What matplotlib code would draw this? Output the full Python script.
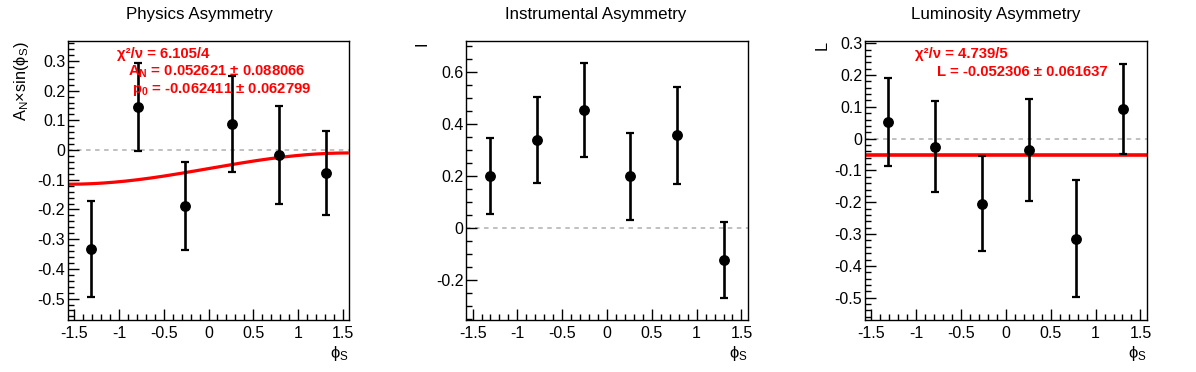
import numpy as np
import matplotlib
matplotlib.use("Agg")
import matplotlib.pyplot as plt
from matplotlib.ticker import MultipleLocator

plt.rcParams['font.family'] = ['Liberation Sans', 'DejaVu Sans']
plt.rcParams['mathtext.fontset'] = 'custom'
plt.rcParams['mathtext.rm'] = 'Liberation Sans'
plt.rcParams['mathtext.it'] = 'Liberation Sans:italic'
plt.rcParams['mathtext.bf'] = 'Liberation Sans:bold'

# ---- data ----
phi_s = [-1.309, -0.785, -0.262, 0.262, 0.785, 1.309]

phys_y = [-0.333, 0.145, -0.188, 0.087, -0.017, -0.078]
phys_err = [0.161, 0.148, 0.148, 0.162, 0.166, 0.141]
phys_AN = 0.052621
phys_p0 = -0.062411

inst_y = [0.201, 0.339, 0.455, 0.200, 0.358, -0.122]
inst_err = [0.147, 0.165, 0.181, 0.167, 0.187, 0.145]

lumi_y = [0.052, -0.026, -0.205, -0.035, -0.314, 0.093]
lumi_err = [0.138, 0.143, 0.149, 0.160, 0.183, 0.142]
lumi_L = -0.052306

titles = ["Physics Asymmetry", "Instrumental Asymmetry", "Luminosity Asymmetry"]
ylabels = [r"A$_\mathrm{N}$×sin(ϕ$_\mathrm{S}$)", "I", "L"]

W, H = 1196, 372
fig = plt.figure(figsize=(W / 100, H / 100), dpi=100)

# axes boxes in pixels: left, right, top, bottom
boxes = [(68, 349, 41, 320), (466.3, 747.7, 41, 320), (865, 1146.7, 41, 320)]
ylims = [(-0.572, 0.367), (-0.353, 0.72), (-0.57, 0.307)]
yminor = [0.02, 0.05, 0.02]
ymajor = [0.1, 0.2, 0.1]
pad_centers = [199, 596, 996]
ylab_x = [21.7, 422, 821.7]

axes = []
for i, (l, r, t, b) in enumerate(boxes):
    ax = fig.add_axes([l / W, 1 - b / H, (r - l) / W, (b - t) / H])
    axes.append(ax)
    ax.set_xlim(-1.57, 1.57)
    ax.set_ylim(*ylims[i])
    ax.xaxis.set_major_locator(MultipleLocator(0.5))
    ax.xaxis.set_minor_locator(MultipleLocator(0.1))
    ax.yaxis.set_major_locator(MultipleLocator(ymajor[i]))
    ax.yaxis.set_minor_locator(MultipleLocator(yminor[i]))
    ax.tick_params(which='both', direction='in', top=False, right=False,
                   labelsize=11.5, width=1.0)
    ax.tick_params(axis='y', which='major', length=8, pad=2)
    ax.tick_params(axis='y', which='minor', length=4)
    ax.tick_params(axis='x', which='major', length=8, pad=4)
    ax.tick_params(axis='x', which='minor', length=4)
    ax.xaxis.set_major_formatter(matplotlib.ticker.FuncFormatter(lambda v, p: f"{v:g}"))
    ax.yaxis.set_major_formatter(matplotlib.ticker.FuncFormatter(lambda v, p: f"{round(v, 6):g}"))
    for s in ax.spines.values():
        s.set_linewidth(1.0)
    ax.axhline(0, color='#bbbbbb', lw=1.3, ls=(0, (2.5, 2.5)), zorder=1)
    fig.text(pad_centers[i] / W, 1 - 15 / H, titles[i], ha='center', va='center', fontsize=12.2)
    ax.text(1.0, -0.085, r"ϕ$_\mathrm{S}$", transform=ax.transAxes, ha='right', va='top', fontsize=12)
    ax.text((ylab_x[i] - l) / (r - l), 1.0, ylabels[i], transform=ax.transAxes,
            ha='center', va='top', rotation=90, fontsize=11.8)

datasets = [(phys_y, phys_err), (inst_y, inst_err), (lumi_y, lumi_err)]
for ax, (yv, ye) in zip(axes, datasets):
    ax.errorbar(phi_s, yv, yerr=ye, fmt='o', color='black', ms=6.8, elinewidth=1.9,
                capsize=2.8, capthick=1.6, zorder=3)

# fit curves
xf = np.linspace(-1.55, 1.55, 200)
axes[0].plot(xf, phys_p0 + phys_AN * np.sin(xf), color='red', lw=2.3, zorder=2)
axes[2].axhline(lumi_L, color='red', lw=2.6, zorder=2)

red = '#ff0000'
fs = 10.7
axes[0].text(0.174, 0.939, "χ²/ν = 6.105/4", transform=axes[0].transAxes, color=red,
             fontsize=fs, fontweight='bold', va='baseline')
axes[0].text(0.214, 0.875, r"$\mathbf{A}_\mathbf{N}$ = 0.052621 ± 0.088066", transform=axes[0].transAxes,
             color=red, fontsize=fs, fontweight='bold', va='baseline')
axes[0].text(0.228, 0.812, r"$\mathbf{p}_\mathbf{0}$ = -0.062411 ± 0.062799", transform=axes[0].transAxes,
             color=red, fontsize=fs, fontweight='bold', va='baseline')
axes[2].text(0.177, 0.939, "χ²/ν = 4.739/5", transform=axes[2].transAxes, color=red,
             fontsize=fs, fontweight='bold', va='baseline')
axes[2].text(0.254, 0.875, "L = -0.052306 ± 0.061637", transform=axes[2].transAxes, color=red,
             fontsize=fs, fontweight='bold', va='baseline')

fig.savefig("out.png", dpi=100)
